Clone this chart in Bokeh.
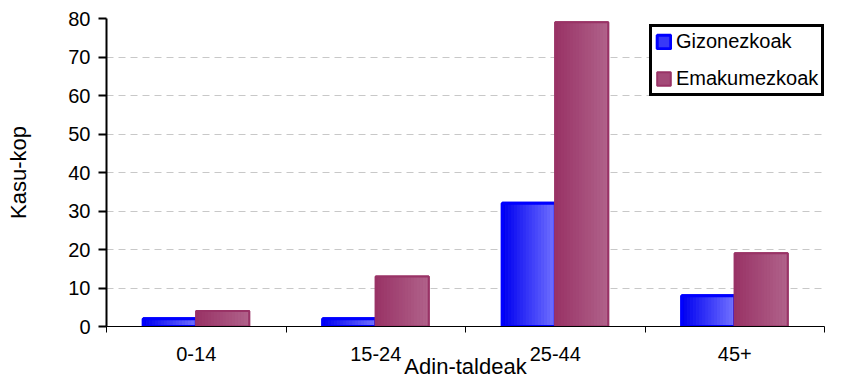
from bokeh.plotting import figure
from bokeh.models import (ColumnDataSource, Range1d, FixedTicker, Legend,
                          LegendItem)
from bokeh.embed import file_html
from bokeh.resources import INLINE

# Cases by age group and sex
age_groups = ["0-14", "15-24", "25-44", "45+"]
men = [2, 2, 32, 8]
women = [4, 13, 79, 19]
y_ticks = [0, 10, 20, 30, 40, 50, 60, 70, 80]

FONT = "Liberation Sans"
BAR_W = 0.295
N_STRIPS = 18

p = figure(width=844, height=381, output_backend="svg", toolbar_location=None,
           x_range=Range1d(-0.5, len(age_groups) - 0.5), y_range=Range1d(0, 80),
           min_border_left=106, min_border_right=20, min_border_top=18,
           min_border_bottom=54)
p.outline_line_color = None
p.background_fill_color = "white"
p.border_fill_color = "white"


def hex_mix(c0, c1, t):
    a = [int(c0[i:i + 2], 16) for i in (1, 3, 5)]
    b = [int(c1[i:i + 2], 16) for i in (1, 3, 5)]
    return "#%02x%02x%02x" % tuple(round(a[j] + (b[j] - a[j]) * t) for j in range(3))


def gradient_bars(values, offset, c_left, c_right, line_color, line_width):
    xs = [i + offset for i in range(len(values))]
    src = ColumnDataSource(dict(x=xs, top=values))
    # base bar, also used as the legend swatch
    base = p.vbar(x="x", top="top", bottom=0, width=BAR_W, source=src,
                  fill_color=hex_mix(c_left, c_right, 0.5),
                  line_color=line_color, line_width=line_width)
    step = BAR_W / N_STRIPS
    for k in range(N_STRIPS):
        sx = [x - BAR_W / 2 + (k + 0.5) * step for x in xs]
        ssrc = ColumnDataSource(dict(x=sx, top=values))
        p.vbar(x="x", top="top", bottom=0, width=step * 1.08, source=ssrc,
               fill_color=hex_mix(c_left, c_right, k / (N_STRIPS - 1)),
               line_color=None)
    p.vbar(x="x", top="top", bottom=0, width=BAR_W, source=src,
           fill_color=None, line_color=line_color, line_width=line_width)
    return base


r_men = gradient_bars(men, -BAR_W / 2, "#0000f0", "#7070ff", "#0000ff", 3)
r_women = gradient_bars(women, BAR_W / 2, "#993366", "#b0628a", "#993366", 2)

# Axes
xa = p.xaxis[0]
xa.ticker = FixedTicker(ticks=list(range(len(age_groups))),
                        minor_ticks=[i - 0.5 for i in range(len(age_groups) + 1)])
xa.major_label_overrides = {i: lab for i, lab in enumerate(age_groups)}
xa.major_tick_line_color = None
xa.minor_tick_in = 0
xa.minor_tick_out = 6
xa.minor_tick_line_color = "black"
xa.axis_line_color = "black"
xa.axis_line_width = 1
xa.major_label_standoff = 14
xa.major_label_text_font = FONT
xa.major_label_text_font_size = "20px"
xa.major_label_text_color = "black"
xa.axis_label = "Adin-taldeak"
xa.axis_label_text_font = FONT
xa.axis_label_text_font_size = "22px"
xa.axis_label_text_font_style = "normal"
xa.axis_label_text_color = "black"
xa.axis_label_standoff = -10

ya = p.yaxis[0]
ya.ticker = FixedTicker(ticks=y_ticks)
ya.minor_tick_line_color = None
ya.major_tick_in = 0
ya.major_tick_out = 8
ya.major_tick_line_width = 2
ya.major_tick_line_color = "black"
ya.axis_line_width = 2
ya.axis_line_color = "black"
ya.major_label_standoff = 8
ya.major_label_text_font = FONT
ya.major_label_text_font_size = "20px"
ya.major_label_text_color = "black"
ya.axis_label = "Kasu-kop"
ya.axis_label_text_font = FONT
ya.axis_label_text_font_size = "22px"
ya.axis_label_text_font_style = "normal"
ya.axis_label_text_color = "black"
ya.axis_label_standoff = 34

p.xgrid.visible = False
p.ygrid.grid_line_color = "#c8c8c8"
p.ygrid.grid_line_dash = "7 5"
p.ygrid.grid_line_width = 1

legend = Legend(items=[LegendItem(label="Gizonezkoak", renderers=[r_men]),
                       LegendItem(label="Emakumezkoak", renderers=[r_women])],
                location=(543, 230), orientation="vertical",
                label_text_font=FONT, label_text_font_size="20px",
                label_text_color="black", glyph_width=17, glyph_height=17,
                label_standoff=4, padding=3, spacing=14, margin=0,
                border_line_color="black", border_line_width=3,
                border_line_alpha=1,
                background_fill_color="white", background_fill_alpha=1)
p.add_layout(legend, "center")

open("out.html", "w").write(file_html(p, INLINE))
